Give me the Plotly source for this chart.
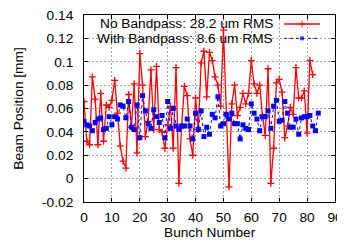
import plotly.graph_objects as go

# ---- data ----
bunch_no_bp = list(range(83))
no_bandpass = [0.066, 0.032, 0.029, 0.087, 0.068, 0.029, 0.073, 0.032, 0.063, 0.061,
               0.067, 0.084, 0.056, 0.028, 0.015, 0.009, 0.072, 0.044, 0.081, 0.022,
               0.107, 0.080, 0.036, 0.049, 0.093, 0.042, 0.096, 0.042, 0.040, 0.026,
               0.046, 0.062, 0.026, 0.095, -0.004, 0.045, 0.079, 0.071, 0.034, 0.020,
               0.069, 0.042, 0.099, 0.109, 0.070, 0.108, 0.101, 0.087, 0.080, 0.062,
               0.127, 0.055, -0.007, 0.064, 0.080, 0.054, 0.061, 0.073, 0.064, 0.073,
               0.101, 0.081, 0.073, 0.080, 0.054, 0.037, 0.094, -0.004, 0.026, 0.082,
               0.085, 0.074, 0.035, 0.045, 0.061, 0.055, 0.095, 0.069, 0.069, 0.075,
               0.039, 0.101, 0.089]

bunch_bp = list(range(85))
with_bandpass = [0.049, 0.046, 0.045, 0.041, 0.048, 0.051, 0.052, 0.042, 0.043, 0.053,
                 0.046, 0.053, 0.051, 0.063, 0.062, 0.052, 0.066, 0.044, 0.042, 0.063,
                 0.035, 0.071, 0.058, 0.047, 0.043, 0.059, 0.053, 0.048, 0.054, 0.035,
                 0.066, 0.043, 0.060, 0.045, 0.042, 0.045, 0.045, 0.051, 0.045, 0.034,
                 0.056, 0.042, 0.058, 0.036, 0.044, 0.038, 0.055, 0.052, 0.070, 0.045,
                 0.047, 0.055, 0.051, 0.056, 0.047, 0.047, 0.034, 0.046, 0.043, 0.042,
                 0.064, 0.056, 0.051, 0.041, 0.053, 0.053, 0.058, 0.043, 0.062, 0.067,
                 0.049, 0.050, 0.066, 0.056, 0.044, 0.044, 0.051, 0.038, 0.052, 0.053,
                 0.053, 0.054, 0.045, 0.041, 0.056]

label_no_bp = "No Bandpass: 28.2 um RMS"
label_bp = "With Bandpass: 8.6 um RMS"
x_title = "Bunch Number"
y_title = "Beam Position [mm]"

x_ticks = [0, 10, 20, 30, 40, 50, 60, 70, 80, 90]
x_ticktext = ["0", "10", "20", "30", "40", "50", "60", "70", "80", "90"]
y_ticks = [-0.02, 0, 0.02, 0.04, 0.06, 0.08, 0.1, 0.12, 0.14]
y_ticktext = ["-0.02", "0", "0.02", "0.04", "0.06", "0.08", "0.1", "0.12", "0.14"]

RED = "#ff0000"
BLUE = "#0000ff"
FONT = "Liberation Sans, Arial, Helvetica, sans-serif"
FS = 13.7

fig = go.Figure()

fig.add_trace(go.Scatter(
    x=bunch_no_bp, y=no_bandpass, mode="lines+markers", name=label_no_bp,
    line=dict(color=RED, width=1.3),
    marker=dict(symbol="cross-thin", size=5, color=RED, line=dict(color=RED, width=1.3)),
    showlegend=False))

fig.add_trace(go.Scatter(
    x=bunch_bp, y=with_bandpass, mode="lines+markers", name=label_bp,
    line=dict(color=BLUE, width=1, dash="dot"),
    marker=dict(symbol="square", size=5, color=BLUE),
    showlegend=False))

# legend samples on an overlay axis in [0,1] coordinates
lx0, lx1 = 0.797, 0.940
lxm = (lx0 + lx1) / 2
ly1, ly2 = 0.952, 0.875
fig.add_trace(go.Scatter(
    x=[lx0, lxm, lx1], y=[ly1] * 3, xaxis="x2", yaxis="y2", mode="lines+markers",
    line=dict(color=RED, width=1.3),
    marker=dict(symbol="cross-thin", size=[0, 5, 0], color=RED, line=dict(color=RED, width=1.3)),
    showlegend=False, hoverinfo="skip"))
fig.add_trace(go.Scatter(
    x=[lx0, lxm, lx1], y=[ly2] * 3, xaxis="x2", yaxis="y2", mode="lines+markers",
    line=dict(color=BLUE, width=1, dash="dot"),
    marker=dict(symbol="square", size=[0, 5, 0], color=BLUE),
    showlegend=False, hoverinfo="skip"))

# opaque key box (between gridlines and traces)
fig.add_shape(type="rect", xref="paper", yref="paper", x0=0.004, x1=0.950, y0=0.843, y1=0.996,
              fillcolor="white", line=dict(width=0), layer="between")

fig.add_annotation(x=0.762, y=ly1, xref="paper", yref="paper", text=label_no_bp,
                   showarrow=False, xanchor="right", yanchor="middle",
                   font=dict(family=FONT, size=FS, color="black"))
fig.add_annotation(x=0.762, y=ly2, xref="paper", yref="paper", text=label_bp,
                   showarrow=False, xanchor="right", yanchor="middle",
                   font=dict(family=FONT, size=FS, color="black"))

# axis titles
fig.add_annotation(x=0.5, y=-0.165, xref="paper", yref="paper", text=x_title,
                   showarrow=False, xanchor="center", yanchor="middle",
                   font=dict(family=FONT, size=FS, color="black"))
fig.add_annotation(x=-0.262, y=0.5, xref="paper", yref="paper", text=y_title,
                   showarrow=False, xanchor="center", yanchor="middle", textangle=-90,
                   font=dict(family=FONT, size=FS, color="black"))

axis_common = dict(
    showline=True, linecolor="black", linewidth=1, mirror="ticks",
    ticks="inside", ticklen=4, tickcolor="black", tickwidth=1,
    showgrid=True, gridcolor="#a0a0a0", gridwidth=1, griddash="2px,2px",
    zeroline=False, automargin=False, ticklabeloverflow="allow",
    tickfont=dict(family=FONT, size=FS, color="black"),
)

# the page puts the figure 8px in from the top-left corner of the window
fig.update_layout(
    width=337, height=233,
    margin=dict(l=75.5, r=10, t=7, b=39, autoexpand=False),
    paper_bgcolor="white", plot_bgcolor="white",
    font=dict(family=FONT, size=FS, color="black"),
    xaxis=dict(range=[0, 90], tickvals=x_ticks, ticktext=x_ticktext,
               ticklabelstandoff=3, **axis_common),
    yaxis=dict(range=[-0.02, 0.14], tickvals=y_ticks, ticktext=y_ticktext,
               ticklabelstandoff=7, **axis_common),
    xaxis2=dict(range=[0, 1], overlaying="x", visible=False, fixedrange=True),
    yaxis2=dict(range=[0, 1], overlaying="y", visible=False, fixedrange=True),
    showlegend=False,
)

fig.write_html("out.html")
